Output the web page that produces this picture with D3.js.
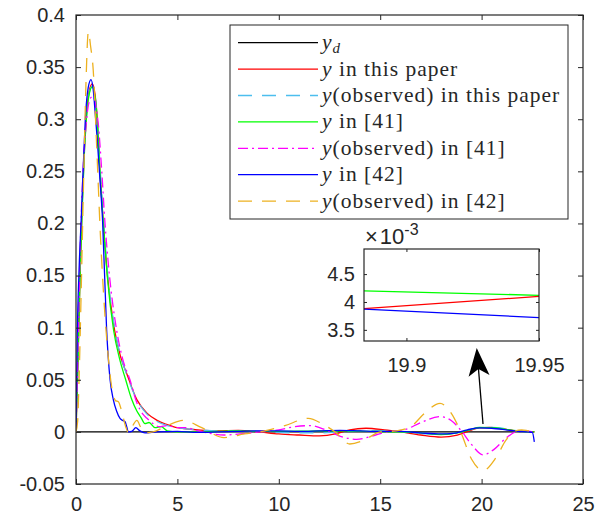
<!DOCTYPE html>
<html>
<head>
<meta charset="utf-8">
<script src="https://cdn.jsdelivr.net/npm/d3@7"></script>
<style>
  body { margin: 0; background: #fff; }
  text { fill: #262626; }
</style>
</head>
<body>
<svg id="chart" width="605" height="519"></svg>
<script>
// ---- data ----
const tYd = [0, 22.6];
const vYd = [0, 0];

const tRed = [0,0.1,0.2,0.3,0.4,0.5,0.65,0.8,0.95,1.05,1.18,1.35,1.55,1.9,2.2,2.5,3.0,3.5,4.0,4.5,5,6,7,8,9,10,11,12,12.8,13.5,14.3,15.2,16,17,18,18.8,19.4,19.9,20.4,21,21.6,22.2,22.6];
const vRed = [0,0.07,0.15,0.215,0.265,0.3,0.327,0.334,0.322,0.3,0.25,0.2,0.15,0.098,0.072,0.056,0.031,0.018,0.011,0.007,0.004,0.002,0.001,0.0015,0,-0.002,-0.003,-0.0038,-0.002,0.002,0.0035,0.002,0,-0.003,-0.005,-0.003,0.001,0.0039,0.0042,0.003,0.0012,0.0005,0];

const tCyan = [0,0.1,0.2,0.3,0.4,0.5,0.65,0.8,0.95,1.05,1.2,1.37,1.57,1.92,2.2,2.5,3.0,3.5,4.0,4.5,5,6,7,8,9,10,11,12,13,14,15,16,17,18,18.8,19.4,19.9,20.5,21.2,21.8,22.6];
const vCyan = [0,0.07,0.15,0.212,0.262,0.298,0.325,0.332,0.321,0.3,0.25,0.2,0.15,0.098,0.073,0.055,0.031,0.017,0.01,0.006,0.004,0.002,0.001,0.001,0.0005,-0.0005,-0.001,-0.001,0,0.001,0.001,0,-0.0015,-0.0025,-0.001,0.002,0.004,0.0042,0.003,0.001,0];

const tGreen = [0,0.1,0.2,0.3,0.4,0.5,0.65,0.8,0.95,1.05,1.18,1.35,1.55,1.85,2.15,2.45,2.75,3.0,3.2,3.4,3.6,3.9,4.2,4.5,5,6,7,8,9,10,11.5,13,14.5,16,17,18,18.8,19.4,19.9,20.5,21.2,21.8,22.6];
const vGreen = [0,0.07,0.15,0.21,0.262,0.297,0.324,0.331,0.32,0.298,0.25,0.2,0.148,0.098,0.07,0.05,0.031,0.02,0.014,0.008,0.009,0.004,0.005,0.001,0,0,0.0005,0.001,0.0005,0.0005,0.0008,0.001,0.0005,0,-0.001,-0.0025,-0.001,0.002,0.0042,0.004,0.0025,0.0008,0];

const tMag = [0,0.1,0.2,0.3,0.42,0.55,0.7,0.85,1.0,1.1,1.27,1.43,1.6,2.0,2.3,2.66,3.0,3.3,3.5,3.8,4.1,4.5,5.0,5.5,5.8,6.5,7.3,8.1,9,10,10.8,11.54,12.3,13,13.84,14.6,15.3,16.2,17,17.95,18.5,19.0,19.5,20.07,20.6,21.2,21.7,22.2,22.5];
const vMag = [0,0.08,0.17,0.23,0.275,0.305,0.32,0.322,0.31,0.295,0.25,0.2,0.16,0.098,0.07,0.05,0.028,0.017,0.013,0.008,0.005,0.006,0.004,0.004,0.002,-0.001,-0.003,-0.002,0,0.002,0.005,0.006,0.002,-0.004,-0.0071,-0.004,0,0.002,0.009,0.0146,0.011,0.001,-0.012,-0.022,-0.017,-0.006,0,0.001,0];

const tBlue = [0,0.06,0.16,0.27,0.36,0.46,0.6,0.74,0.85,0.95,1.05,1.15,1.31,1.51,1.68,1.84,2.0,2.17,2.3,2.42,2.5,2.58,2.75,2.95,3.15,3.4,4,5,6,7,8,9,10,11,12,13,14,15,16,17,18,18.6,19.3,19.9,20.5,21.2,21.8,22.3,22.5,22.6];
const vBlue = [0,0.09,0.16,0.21,0.255,0.3,0.33,0.338,0.328,0.305,0.28,0.251,0.203,0.098,0.05,0.031,0.02,0.013,0.011,0.0098,0.005,0,0.0005,0.004,0.001,-0.001,0,0.0005,-0.0005,0,0.0005,0.001,0.001,0.0005,0.001,0.0015,0.001,0.0005,0.0005,-0.001,-0.002,-0.0015,0.002,0.0039,0.0035,0.002,0.0005,0,-0.0005,-0.0095];

const tOrange = [0,0.08,0.15,0.25,0.35,0.42,0.5,0.61,0.72,0.85,1.02,1.2,1.4,1.6,1.76,1.95,2.09,2.25,2.45,2.6,2.8,3.0,3.2,3.4,3.8,4.5,5.3,6.2,7.3,8.3,9.3,10.3,11.45,12.2,12.77,13.5,14.2,15,15.8,16.5,17.2,17.95,18.5,18.97,19.5,20.08,20.7,21.2,21.55,21.98,22.3,22.6];
const vOrange = [0,0.01,0.05,0.13,0.22,0.28,0.34,0.384,0.37,0.347,0.274,0.19,0.12,0.07,0.043,0.03,0.029,0.02,0.005,-0.001,0.006,0.011,0.004,-0.001,0,0.006,0.011,0.004,-0.0055,-0.002,0.001,0.006,0.013,0.007,0,-0.0116,-0.008,0,0.001,0.005,0.018,0.0274,0.018,0,-0.026,-0.037,-0.025,-0.008,0,0.002,0.001,0];

// zoomed inset (values x 1e-3 axis)
const tInset = [19.884, 19.95];
const vInsetRed = [0.00388, 0.0041];
const vInsetGreen = [0.0042, 0.00412];
const vInsetBlue = [0.00387, 0.00372];

const xTicks = [0, 5, 10, 15, 20, 25];
const xTickLabels = ["0", "5", "10", "15", "20", "25"];
const yTicks = [-0.05, 0, 0.05, 0.1, 0.15, 0.2, 0.25, 0.3, 0.35, 0.4];
const yTickLabels = ["-0.05", "0", "0.05", "0.1", "0.15", "0.2", "0.25", "0.3", "0.35", "0.4"];
const insetXTicks = [19.9, 19.95];
const insetXTickLabels = ["19.9", "19.95"];
const insetYTicks = [0.0035, 0.004, 0.0045];
const insetYTickLabels = ["3.5", "4", "4.5"];

const legendLabels = [
    ["y", "", "d"],
    ["y", " in this paper"],
    ["y", "(observed) in this paper"],
    ["y", " in [41]"],
    ["y", "(observed) in [41]"],
    ["y", " in [42]"],
    ["y", "(observed) in [42]"]
];

// series styles
const series = [
    {t: tYd, v: vYd, color: "#000000", dash: null},
    {t: tRed, v: vRed, color: "#ff0000", dash: null},
    {t: tCyan, v: vCyan, color: "#4dbeee", dash: "14,10"},
    {t: tGreen, v: vGreen, color: "#00ff00", dash: null},
    {t: tMag, v: vMag, color: "#ff00ff", dash: "10,4,2,4"},
    {t: tBlue, v: vBlue, color: "#0000ff", dash: null},
    {t: tOrange, v: vOrange, color: "#edb120", dash: "14,10"}
];

const svg = d3.select("#chart");
const axisColor = "#262626";
const tickFont = "Liberation Sans, Arial, sans-serif";

svg.append("rect").attr("width", 605).attr("height", 519).attr("fill", "#fff");

const x = d3.scaleLinear().domain([0, 25]).range([76, 583]);
const y = d3.scaleLinear().domain([-0.05, 0.4]).range([484, 15]);

svg.append("defs").append("clipPath").attr("id", "plotClip")
    .append("rect")
    .attr("x", x(0)).attr("y", y(0.4))
    .attr("width", x(25) - x(0)).attr("height", y(-0.05) - y(0.4));

// lines
const line = (sx, sy) => d3.line()
    .x(d => sx(d[0]))
    .y(d => sy(d[1]))
    .curve(d3.curveMonotoneX);

const plot = svg.append("g").attr("clip-path", "url(#plotClip)");
series.forEach(s => {
    plot.append("path")
        .datum(s.t.map((t, i) => [t, s.v[i]]))
        .attr("fill", "none")
        .attr("stroke", s.color)
        .attr("stroke-width", 1.3)
        .attr("stroke-dasharray", s.dash)
        .attr("d", line(x, y));
});

// axes with inward ticks
function styleAxis(g) {
    g.select(".domain").remove();
    g.selectAll(".tick line").attr("stroke", axisColor);
    g.selectAll(".tick text")
        .attr("font-family", tickFont)
        .attr("font-size", 20)
        .attr("fill", axisColor);
}

svg.append("g")
    .attr("transform", `translate(0,${y(-0.05)})`)
    .call(d3.axisBottom(x).tickValues(xTicks).tickFormat((d, i) => xTickLabels[i])
        .tickSizeInner(-5).tickSizeOuter(0).tickPadding(13))
    .call(styleAxis);
svg.append("g")
    .attr("transform", `translate(0,${y(0.4)})`)
    .call(d3.axisTop(x).tickValues(xTicks).tickFormat("").tickSizeInner(-5).tickSizeOuter(0))
    .call(styleAxis);
svg.append("g")
    .attr("transform", `translate(${x(0)},0)`)
    .call(d3.axisLeft(y).tickValues(yTicks).tickFormat((d, i) => yTickLabels[i])
        .tickSizeInner(-5).tickSizeOuter(0).tickPadding(11))
    .call(styleAxis);
svg.append("g")
    .attr("transform", `translate(${x(25)},0)`)
    .call(d3.axisRight(y).tickValues(yTicks).tickFormat("").tickSizeInner(-5).tickSizeOuter(0))
    .call(styleAxis);

svg.append("rect")
    .attr("x", x(0)).attr("y", y(0.4))
    .attr("width", x(25) - x(0)).attr("height", y(-0.05) - y(0.4))
    .attr("fill", "none").attr("stroke", axisColor).attr("stroke-width", 1.2);

// legend
const lg = svg.append("g");
lg.append("rect")
    .attr("x", 230).attr("y", 25).attr("width", 338).attr("height", 194)
    .attr("fill", "#fff").attr("stroke", axisColor).attr("stroke-width", 1);
series.forEach((s, i) => {
    const cy = 42.7 + i * 26.4;
    lg.append("line")
        .attr("x1", 238).attr("x2", 318).attr("y1", cy).attr("y2", cy)
        .attr("stroke", s.color).attr("stroke-width", 1.3)
        .attr("stroke-dasharray", s.dash);
    const lab = legendLabels[i];
    const tx = lg.append("text")
        .attr("x", 322).attr("y", cy + 6.5)
        .attr("font-family", "Liberation Serif, Times New Roman, serif")
        .attr("font-size", 21.5)
        .attr("letter-spacing", 1.0)
        .attr("fill", "#000");
    tx.append("tspan").attr("font-style", "italic").text(lab[0]);
    if (lab[2]) {
        tx.append("tspan").attr("font-style", "italic").attr("font-size", 15)
            .attr("dy", 4).text(lab[2]);
    } else {
        tx.append("tspan").text(lab[1]);
    }
});

// inset axes
const ix = d3.scaleLinear().domain([19.884, 19.95]).range([364, 539]);
const iy = d3.scaleLinear().domain([0.0033, 0.00495]).range([341, 249]);
const ins = svg.append("g");
ins.append("rect")
    .attr("x", 364).attr("y", 249).attr("width", 175).attr("height", 92)
    .attr("fill", "#fff");
ins.append("clipPath").attr("id", "insetClip")
    .append("rect").attr("x", 364).attr("y", 249).attr("width", 175).attr("height", 92);
const insetLines = [
    {v: vInsetGreen, color: "#00ff00"},
    {v: vInsetRed, color: "#ff0000"},
    {v: vInsetBlue, color: "#0000ff"}
];
const insPlot = ins.append("g").attr("clip-path", "url(#insetClip)");
insetLines.forEach(s => {
    insPlot.append("path")
        .datum(tInset.map((t, i) => [t, s.v[i]]))
        .attr("fill", "none").attr("stroke", s.color).attr("stroke-width", 1.3)
        .attr("d", line(ix, iy));
});
ins.append("g").attr("transform", "translate(0,341)")
    .call(d3.axisBottom(ix).tickValues(insetXTicks).tickFormat((d, i) => insetXTickLabels[i])
        .tickSizeInner(-3).tickSizeOuter(0).tickPadding(17))
    .call(styleAxis);
ins.append("g").attr("transform", "translate(0,249)")
    .call(d3.axisTop(ix).tickValues(insetXTicks).tickFormat("").tickSizeInner(-3).tickSizeOuter(0))
    .call(styleAxis);
ins.append("g").attr("transform", "translate(364,0)")
    .call(d3.axisLeft(iy).tickValues(insetYTicks).tickFormat((d, i) => insetYTickLabels[i])
        .tickSizeInner(-3).tickSizeOuter(0).tickPadding(9))
    .call(styleAxis);
ins.append("g").attr("transform", "translate(539,0)")
    .call(d3.axisRight(iy).tickValues(insetYTicks).tickFormat("").tickSizeInner(-3).tickSizeOuter(0))
    .call(styleAxis);
ins.append("rect")
    .attr("x", 364).attr("y", 249).attr("width", 175).attr("height", 92)
    .attr("fill", "none").attr("stroke", axisColor).attr("stroke-width", 1.2);
const expo = ins.append("text")
    .attr("x", 365).attr("y", 244)
    .attr("font-family", tickFont).attr("font-size", 22).attr("fill", axisColor);
expo.append("tspan").text("\u00d7");
expo.append("tspan").attr("dx", 2).text("10");
expo.append("tspan").attr("font-size", 16).attr("dy", -9).text("-3");

// arrow pointing from the curves at t≈20 up to the inset
const tail = [x(20.07), y(0.0076)];
const tip = [x(19.76), y(0.0805)];
const dx = tip[0] - tail[0], dy = tip[1] - tail[1];
const len = Math.hypot(dx, dy);
const ux = dx / len, uy = dy / len, px = -uy, py = ux;
const headL = 28, headW = 10.5, notch = 21;
svg.append("line")
    .attr("x1", tail[0]).attr("y1", tail[1])
    .attr("x2", tip[0] - ux * notch).attr("y2", tip[1] - uy * notch)
    .attr("stroke", "#000").attr("stroke-width", 1.3);
svg.append("path")
    .attr("d", d3.line()([
        tip,
        [tip[0] - ux * headL + px * headW, tip[1] - uy * headL + py * headW],
        [tip[0] - ux * notch, tip[1] - uy * notch],
        [tip[0] - ux * headL - px * headW, tip[1] - uy * headL - py * headW]
    ]) + "Z")
    .attr("fill", "#000");
</script>
</body>
</html>
